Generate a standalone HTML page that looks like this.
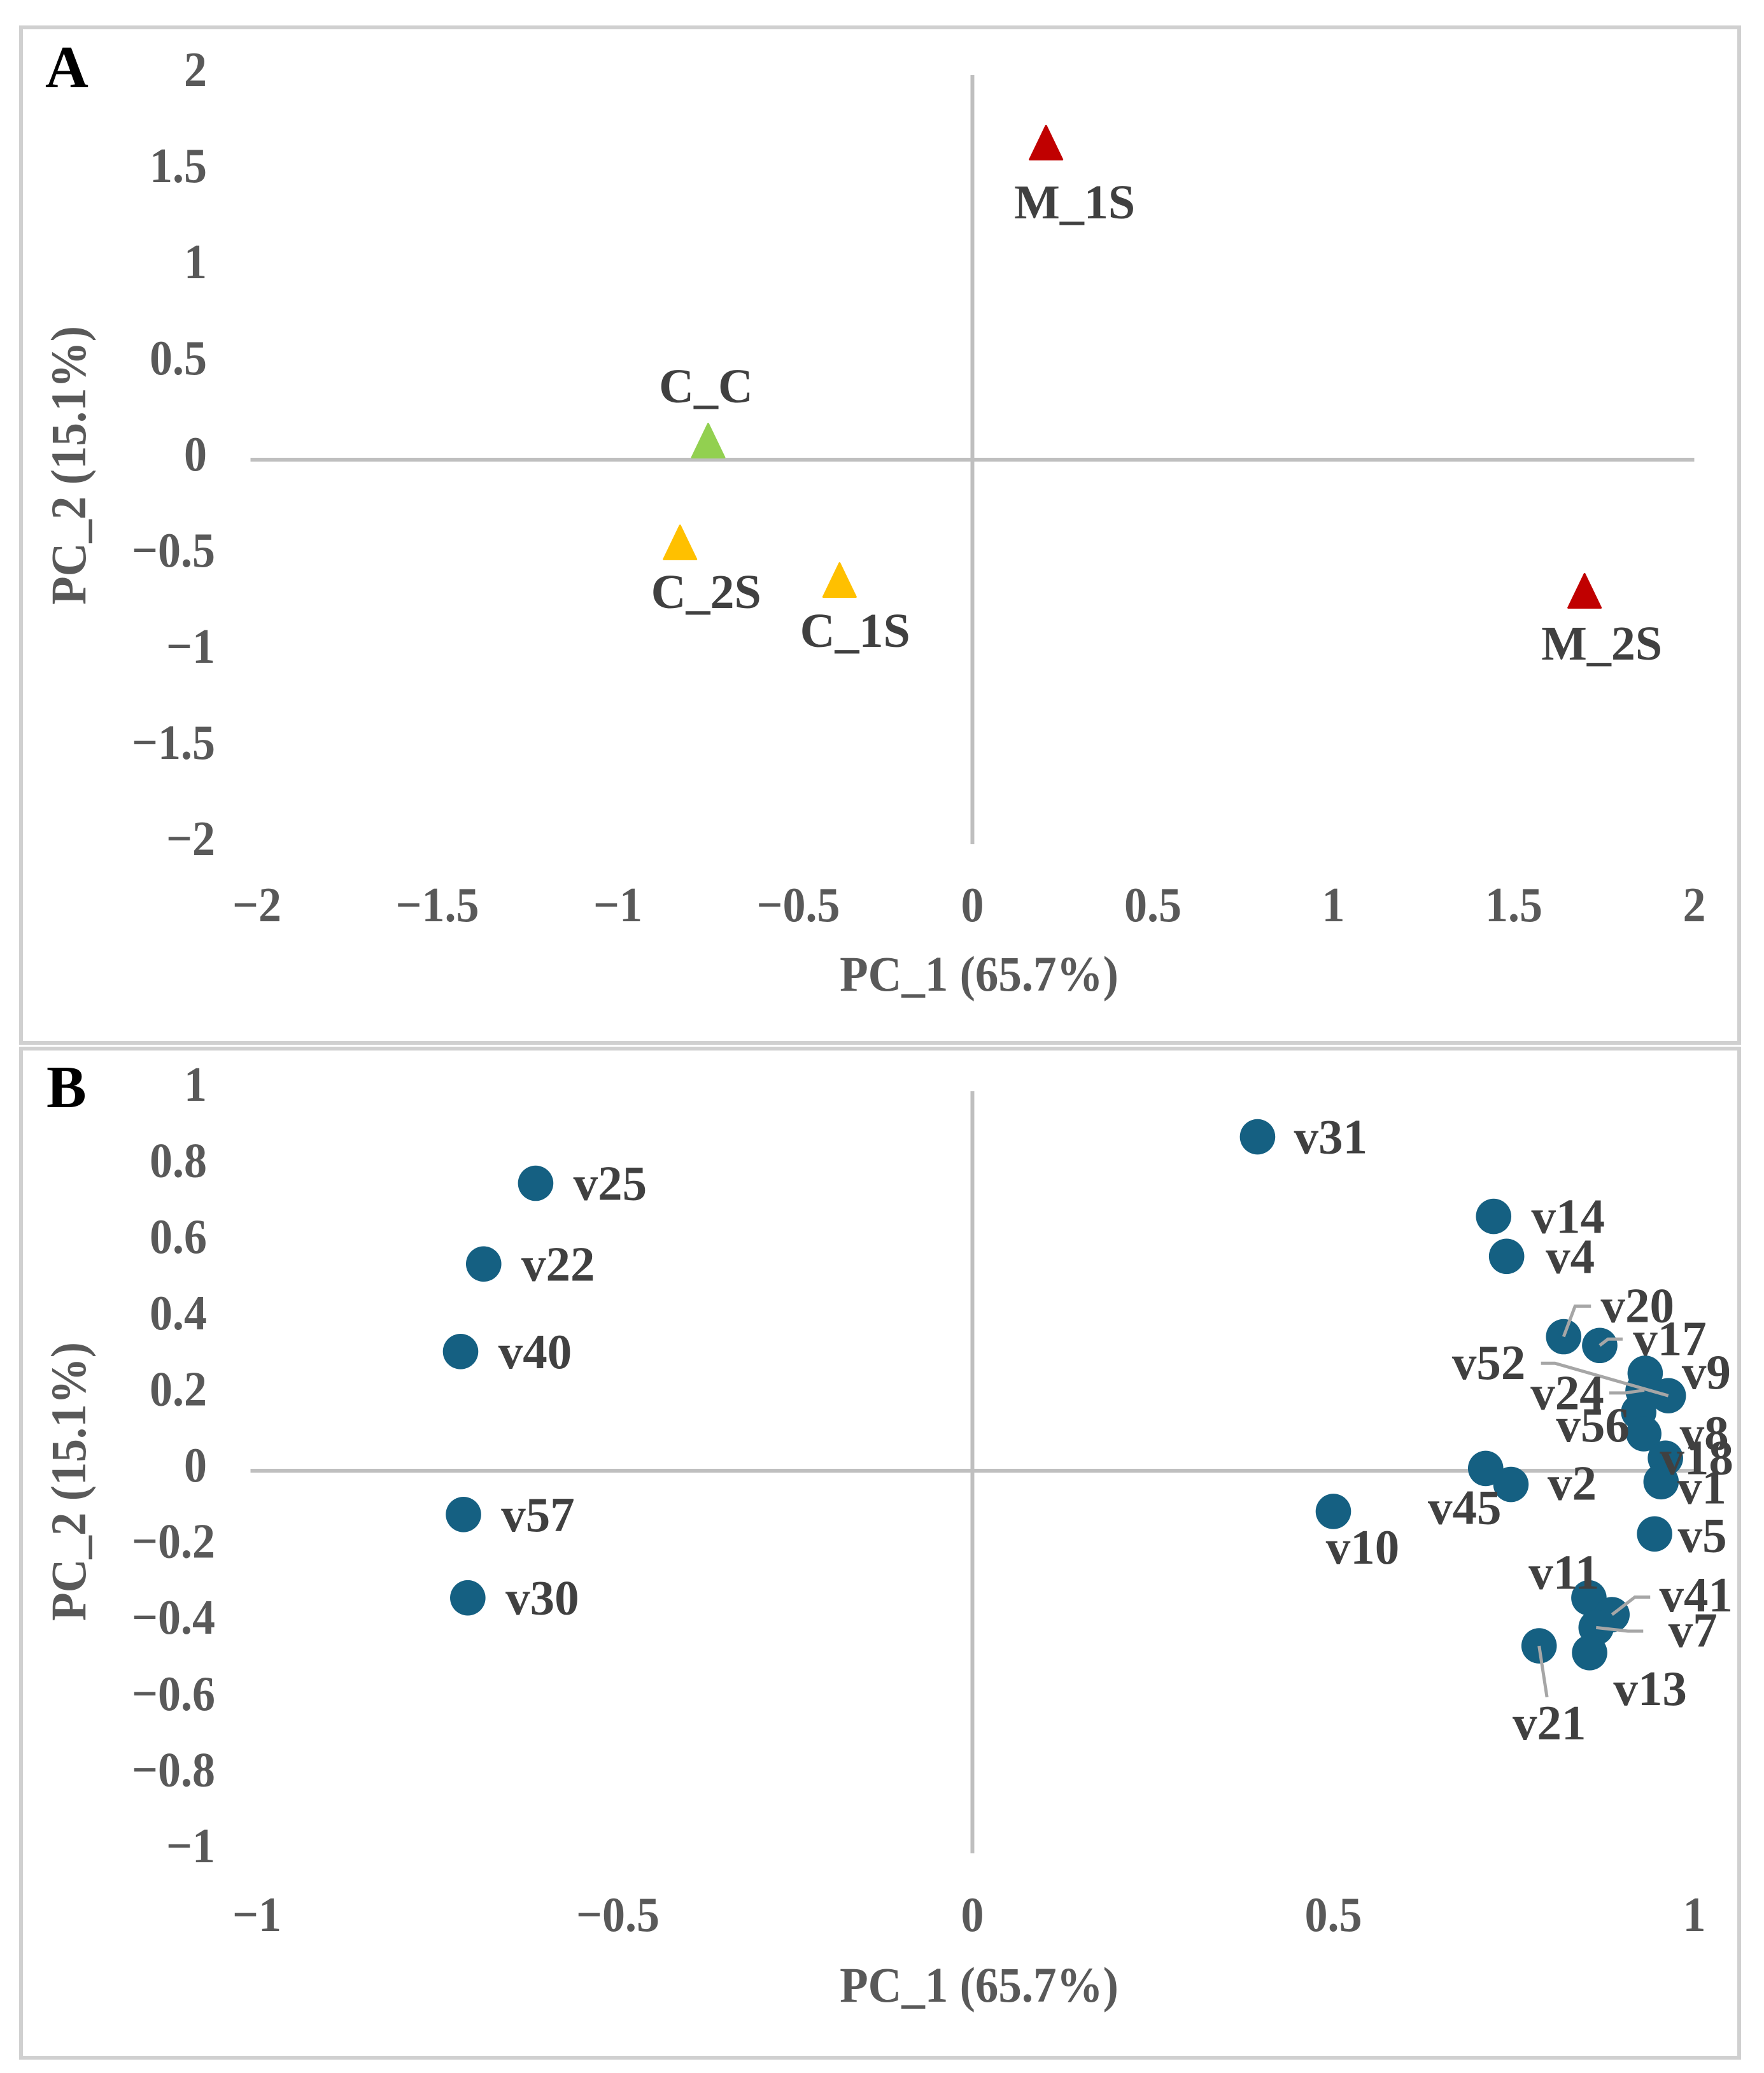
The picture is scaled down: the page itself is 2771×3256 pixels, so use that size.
<!DOCTYPE html>
<html lang="en">
<head>
<meta charset="utf-8">
<title>PCA score and loading plots</title>
<style>
html,body{margin:0;padding:0;background:#fff;}
svg{display:block;}
text{font-family:"Liberation Serif",serif;font-weight:bold;}
</style>
</head>
<body>
<svg id="chart" xmlns="http://www.w3.org/2000/svg" width="2771" height="3256" viewBox="0 0 2771 3256">
<rect x="0" y="0" width="2771" height="3256" fill="#ffffff"/>
<rect x="33" y="43" width="2699" height="1595" fill="#ffffff" stroke="#d0d0d0" stroke-width="6"/>
<rect x="33" y="1647" width="2699" height="1585" fill="#ffffff" stroke="#d0d0d0" stroke-width="6"/>
<text x="71" y="137" font-size="94" fill="#000000">A</text>
<text x="73" y="1739" font-size="94" fill="#000000">B</text>
</svg>
<script>
// Panel A: sample scores
const scoreNames = ["M_1S", "C_C", "C_2S", "C_1S", "M_2S"];
const scorePc1 = [0.204, -0.732, -0.810, -0.368, 1.696];
const scorePc2 = [1.649, 0.099, -0.430, -0.626, -0.682];
const scoreGroups = ["mix", "control", "stress", "stress", "mix"];
const scoreTicksX = [-2, -1.5, -1, -0.5, 0, 0.5, 1, 1.5, 2];
const scoreTicksY = [2, 1.5, 1, 0.5, 0, -0.5, -1, -1.5, -2];

// Panel B: variable loadings
const loadingNames = ["v31", "v25", "v22", "v40", "v57", "v30", "v14", "v4", "v20", "v17", "v9", "v52", "v24", "v56", "v8", "v18", "v1", "v5", "v45", "v2", "v10", "v11", "v41", "v7", "v13", "v21"];
const loadingPc1 = [0.395, -0.605, -0.677, -0.709, -0.705, -0.699, 0.722, 0.740, 0.819, 0.869, 0.932, 0.964, 0.929, 0.923, 0.930, 0.960, 0.954, 0.945, 0.711, 0.746, 0.500, 0.854, 0.886, 0.864, 0.855, 0.785];
const loadingPc2 = [0.877, 0.755, 0.543, 0.313, -0.115, -0.334, 0.668, 0.563, 0.352, 0.329, 0.256, 0.197, 0.210, 0.154, 0.097, 0.033, -0.029, -0.166, 0.006, -0.036, -0.107, -0.334, -0.378, -0.412, -0.478, -0.460];
const loadingTicksX = [-1, -0.5, 0, 0.5, 1];
const loadingTicksY = [1, 0.8, 0.6, 0.4, 0.2, 0, -0.2, -0.4, -0.6, -0.8, -1];

// Layout only: label baseline and leader offsets from each mark, in pixels
const scoreLabelLayout = {M_1S:[45,119], C_C:[-3.5,-60], C_2S:[41,103], C_1S:[24.4,105], M_2S:[27,108]};
const loadingLabelLayout = {v31:[115,0], v25:[117,0], v22:[117,0], v40:[117,0], v57:[117,0], v30:[117,0], v14:[117,0], v4:[100,0], v20:[116,-49], v17:[110,-11], v52:[-282,-52], v9:[96,-2], v24:[-119,3], v56:[-72,20], v8:[95,-1], v18:[49,-1], v1:[64,8], v2:[96,-2], v45:[-33,61], v10:[46,56], v5:[75,2], v11:[-39,-40], v41:[132,-31], v7:[152,4], v13:[95,56], v21:[16,121]};
const leaderLayout = {v20:[[0,0],[18,-48],[43,-48]], v17:[[0,0],[13,-10],[36,-10]], v52:[[0,0],[-178,-51],[-200,-51]], v24:[[2,-1],[-28,3.5],[-53,3.5]], v41:[[0,0],[36,-27.5],[60,-27.5]], v7:[[0,0],[50,5.6],[74,5.6]], v21:[[0,0],[12.4,80.6]]};
const groupColors = {mix:"#c00000", control:"#92d050", stress:"#ffc000"};

const svg = document.getElementById("chart");
const NS = "http://www.w3.org/2000/svg";
const STRETCH = "scale(1,1.07)";

function make(tag, attrs, content) {
  const el = document.createElementNS(NS, tag);
  for (const k in attrs) el.setAttribute(k, attrs[k]);
  if (content !== undefined) el.textContent = content;
  svg.appendChild(el);
  return el;
}
function fmt(v) {
  return v < 0 ? "\u2212" + String(-v) : String(v);
}

// Panel A axis functions
function ax(v) { return 1527.5 + v * 567; }
function ay(v) { return 722 - v * 302; }
// Panel B axis functions
function bx(v) { return 1527.5 + v * 1134; }
function by(v) { return 2310 - v * 598; }

function drawAxes(prefix, xf, yf, xTicks, yTicks, xLabelY, xTitleY, yTitleY, vTop, vBottom) {
  const xMin = xTicks[0], xMax = xTicks[xTicks.length - 1];
  const hLine = make("line", {x1:xf(xMin), x2:xf(xMax), y1:yf(0), y2:yf(0), stroke:"#bfbfbf", "stroke-width":6});
  
  
  const vLine = make("line", {x1:xf(0), x2:xf(0), y1:vTop, y2:vBottom, stroke:"#bfbfbf", "stroke-width":6});
  
  
  xTicks.forEach(function (t) {
    const tx = xf(t) + (t < 0 ? 10 : 0);
    const el = make("text", {"font-size":72, fill:"#595959", "text-anchor":"middle", transform:"translate(" + tx + "," + xLabelY + ") " + STRETCH}, fmt(t));
    
    
  });
  yTicks.forEach(function (t) {
    const tx = t < 0 ? 338 : 325;
    const el = make("text", {"font-size":72, fill:"#595959", "text-anchor":"end", transform:"translate(" + tx + "," + (yf(t) + 17) + ") " + STRETCH}, fmt(t));
    
    
  });
  const xTitle = make("text", {"font-size":73, fill:"#595959", "text-anchor":"middle", transform:"translate(1538," + xTitleY + ") " + STRETCH}, "PC_1 (65.7%)");
  
  
  const yTitle = make("text", {"font-size":73, fill:"#595959", "text-anchor":"middle", transform:"translate(134," + yTitleY + ") rotate(-90) " + STRETCH}, "PC_2 (15.1%)");
  
  
}

drawAxes("panel-a", ax, ay, scoreTicksX, scoreTicksY, 1447, 1556, 731, 118, 1326);
drawAxes("panel-b", bx, by, loadingTicksX, loadingTicksY, 3033, 3144, 2327, 1714, 2911);

// Panel A marks
scoreNames.forEach(function (name, i) {
  const cx = ax(scorePc1[i]), cy = ay(scorePc2[i]);
  const color = groupColors[scoreGroups[i]];
  const points = (cx - 25.5) + "," + (cy + 26.5) + " " + (cx + 25.5) + "," + (cy + 26.5) + " " + cx + "," + (cy - 26.5);
  const mark = make("polygon", {points:points, fill:color, stroke:color, "stroke-width":3, "stroke-linejoin":"round"});
  
  
  const off = scoreLabelLayout[name];
  const label = make("text", {x:cx + off[0], y:cy + off[1], "font-size":76, fill:"#404040", "text-anchor":"middle"}, name);
  
  
});

// Panel B marks
loadingNames.forEach(function (name, i) {
  const mark = make("circle", {cx:bx(loadingPc1[i]), cy:by(loadingPc2[i]), r:27.8, fill:"#156082"});
  
  
});
loadingNames.forEach(function (name, i) {
  const path = leaderLayout[name];
  if (!path) return;
  const cx = bx(loadingPc1[i]), cy = by(loadingPc2[i]);
  const pts = path.map(function (p) { return (cx + p[0]) + "," + (cy + p[1]); }).join(" ");
  const line = make("polyline", {points:pts, fill:"none", stroke:"#a6a6a6", "stroke-width":5});
  
  
});
loadingNames.forEach(function (name, i) {
  const off = loadingLabelLayout[name];
  const label = make("text", {x:bx(loadingPc1[i]) + off[0], y:by(loadingPc2[i]) + off[1] + 26, "font-size":77, fill:"#404040", "text-anchor":"middle"}, name);
  
  
});
</script>
</body>
</html>
